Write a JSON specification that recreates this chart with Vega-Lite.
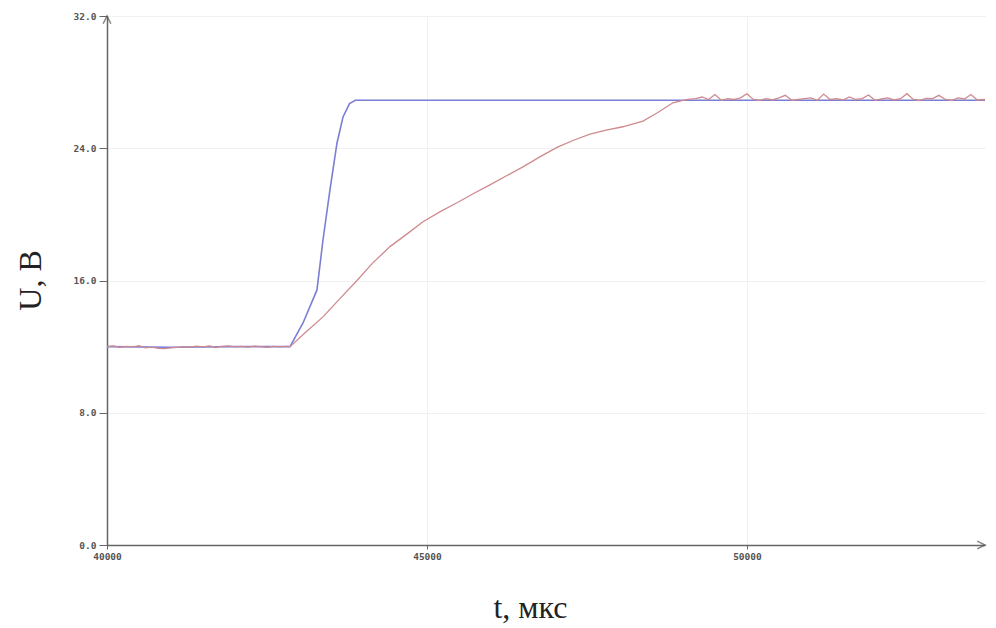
{
  "$schema": "https://vega.github.io/schema/vega-lite/v6.json",
  "width": 878,
  "height": 529,
  "autosize": {"type": "none"},
  "padding": {"left": 107, "top": 16, "right": 11, "bottom": 83},
  "background": "white",
  "config": {"view": {"stroke": null}},
  "datasets": {
    "blue": [
      {"t": 40000, "u": 12.0}, {"t": 41000, "u": 11.96}, {"t": 42000, "u": 12.0}, {"t": 42860, "u": 12.0},
      {"t": 43063, "u": 13.43}, {"t": 43281, "u": 15.43}, {"t": 43375, "u": 18.45}, {"t": 43484, "u": 21.48},
      {"t": 43594, "u": 24.32}, {"t": 43688, "u": 25.89}, {"t": 43790, "u": 26.7}, {"t": 43880, "u": 26.9},
      {"t": 53720, "u": 26.9}
    ],
    "red": [
      {"t": 40000, "u": 12.0}, {"t": 40100, "u": 12.05}, {"t": 40200, "u": 11.95}, {"t": 40300, "u": 12.02},
      {"t": 40400, "u": 11.98}, {"t": 40500, "u": 12.06}, {"t": 40600, "u": 11.93}, {"t": 40700, "u": 11.97},
      {"t": 40800, "u": 11.9}, {"t": 40900, "u": 11.88}, {"t": 41000, "u": 11.92}, {"t": 41100, "u": 11.95},
      {"t": 41200, "u": 12.0}, {"t": 41300, "u": 11.97}, {"t": 41400, "u": 12.03}, {"t": 41500, "u": 11.99},
      {"t": 41600, "u": 12.04}, {"t": 41700, "u": 11.96}, {"t": 41800, "u": 12.01}, {"t": 41900, "u": 12.05},
      {"t": 42000, "u": 11.98}, {"t": 42100, "u": 12.02}, {"t": 42200, "u": 11.97}, {"t": 42300, "u": 12.03},
      {"t": 42400, "u": 12.0}, {"t": 42500, "u": 11.96}, {"t": 42600, "u": 12.02}, {"t": 42700, "u": 11.99},
      {"t": 42800, "u": 12.01}, {"t": 42860, "u": 12.0},
      {"t": 43100, "u": 12.85}, {"t": 43375, "u": 13.8}, {"t": 43650, "u": 14.95}, {"t": 43906, "u": 16.0},
      {"t": 44150, "u": 17.05}, {"t": 44422, "u": 18.05}, {"t": 44700, "u": 18.85}, {"t": 44938, "u": 19.55},
      {"t": 45200, "u": 20.15}, {"t": 45469, "u": 20.7}, {"t": 45700, "u": 21.2}, {"t": 45984, "u": 21.78},
      {"t": 46250, "u": 22.35}, {"t": 46500, "u": 22.87}, {"t": 46750, "u": 23.45}, {"t": 47031, "u": 24.05},
      {"t": 47300, "u": 24.5}, {"t": 47547, "u": 24.85}, {"t": 47800, "u": 25.1}, {"t": 48063, "u": 25.3},
      {"t": 48375, "u": 25.64}, {"t": 48594, "u": 26.13}, {"t": 48844, "u": 26.75}, {"t": 49000, "u": 26.9},
      {"t": 49100, "u": 26.97}, {"t": 49200, "u": 27.0}, {"t": 49300, "u": 27.1}, {"t": 49400, "u": 26.95},
      {"t": 49500, "u": 27.25}, {"t": 49600, "u": 26.9}, {"t": 49700, "u": 27.0}, {"t": 49800, "u": 26.95},
      {"t": 49900, "u": 27.05}, {"t": 50000, "u": 27.3}, {"t": 50100, "u": 26.95}, {"t": 50200, "u": 26.9},
      {"t": 50300, "u": 27.0}, {"t": 50400, "u": 26.92}, {"t": 50500, "u": 27.05}, {"t": 50600, "u": 27.2},
      {"t": 50700, "u": 26.9}, {"t": 50800, "u": 26.95}, {"t": 50900, "u": 27.0}, {"t": 51000, "u": 27.05},
      {"t": 51100, "u": 26.9}, {"t": 51200, "u": 27.28}, {"t": 51300, "u": 26.95}, {"t": 51400, "u": 27.0},
      {"t": 51500, "u": 26.92}, {"t": 51600, "u": 27.1}, {"t": 51700, "u": 26.95}, {"t": 51800, "u": 27.0},
      {"t": 51900, "u": 27.22}, {"t": 52000, "u": 26.9}, {"t": 52100, "u": 26.98}, {"t": 52200, "u": 27.05},
      {"t": 52300, "u": 26.92}, {"t": 52400, "u": 27.0}, {"t": 52500, "u": 27.3}, {"t": 52600, "u": 26.95},
      {"t": 52700, "u": 26.9}, {"t": 52800, "u": 27.02}, {"t": 52900, "u": 27.0}, {"t": 53000, "u": 27.2},
      {"t": 53100, "u": 26.95}, {"t": 53200, "u": 26.9}, {"t": 53300, "u": 27.05}, {"t": 53400, "u": 26.98},
      {"t": 53500, "u": 27.25}, {"t": 53600, "u": 26.92}, {"t": 53720, "u": 26.95}
    ],
    "arrows": [
      {"t": 40000, "u": 32, "k": "up"},
      {"t": 53720, "u": 0, "k": "right"}
    ]
  },
  "layer": [
    {
      "data": {"name": "blue"},
      "mark": {"type": "line", "color": "#7b7fd3", "strokeWidth": 1.6, "clip": true},
      "encoding": {
        "x": {
          "field": "t", "type": "quantitative",
          "scale": {"domain": [40000, 53720], "nice": false, "zero": false},
          "axis": {
            "values": [40000, 45000, 50000],
            "format": "d",
            "title": "t, мкс",
            "titleFont": "Liberation Serif",
            "titleFontSize": 32,
            "titleFontWeight": "normal",
            "titleColor": "#222",
            "titleX": 423,
            "titleY": 72,
            "titleBaseline": "alphabetic",
            "labelFont": "DejaVu Sans Mono",
            "labelFontSize": 9.5,
            "labelFontWeight": "bold",
            "labelColor": "#555",
            "labelPadding": 2,
            "domainColor": "#666",
            "domainWidth": 1.5,
            "tickColor": "#666",
            "tickSize": 4,
            "grid": true,
            "gridColor": "#f1f1f1",
            "labelFlush": false
          }
        },
        "y": {
          "field": "u", "type": "quantitative",
          "scale": {"domain": [0, 32], "nice": false},
          "axis": {
            "values": [0, 8, 16, 24, 32],
            "format": ".1f",
            "title": "U, B",
            "titleFont": "Liberation Serif",
            "titleFontSize": 32,
            "titleFontWeight": "normal",
            "titleColor": "#222",
            "titleX": -77,
            "titleY": 264,
            "titleAngle": -90,
            "titleAlign": "center",
            "titleBaseline": "middle",
            "labelFont": "DejaVu Sans Mono",
            "labelFontSize": 9.5,
            "labelFontWeight": "bold",
            "labelColor": "#555",
            "labelPadding": 3,
            "domainColor": "#666",
            "domainWidth": 1.5,
            "tickColor": "#666",
            "tickSize": 8,
            "grid": true,
            "gridColor": "#f1f1f1",
            "labelFlush": false
          }
        }
      }
    },
    {
      "data": {"name": "red"},
      "mark": {"type": "line", "color": "#cf8a8f", "strokeWidth": 1.3, "clip": true},
      "encoding": {
        "x": {"field": "t", "type": "quantitative"},
        "y": {"field": "u", "type": "quantitative"}
      }
    },
    {
      "data": {"name": "arrows"},
      "transform": [{"filter": "datum.k == 'up'"}],
      "mark": {"type": "point", "shape": "M-1,2L0,0L1,2", "size": 60, "filled": false, "stroke": "#555", "strokeWidth": 1.5},
      "encoding": {
        "x": {"field": "t", "type": "quantitative"},
        "y": {"field": "u", "type": "quantitative"}
      }
    },
    {
      "data": {"name": "arrows"},
      "transform": [{"filter": "datum.k == 'right'"}],
      "mark": {"type": "point", "shape": "M-2,-1L0,0L-2,1", "size": 60, "filled": false, "stroke": "#555", "strokeWidth": 1.5},
      "encoding": {
        "x": {"field": "t", "type": "quantitative"},
        "y": {"field": "u", "type": "quantitative"}
      }
    }
  ]
}
